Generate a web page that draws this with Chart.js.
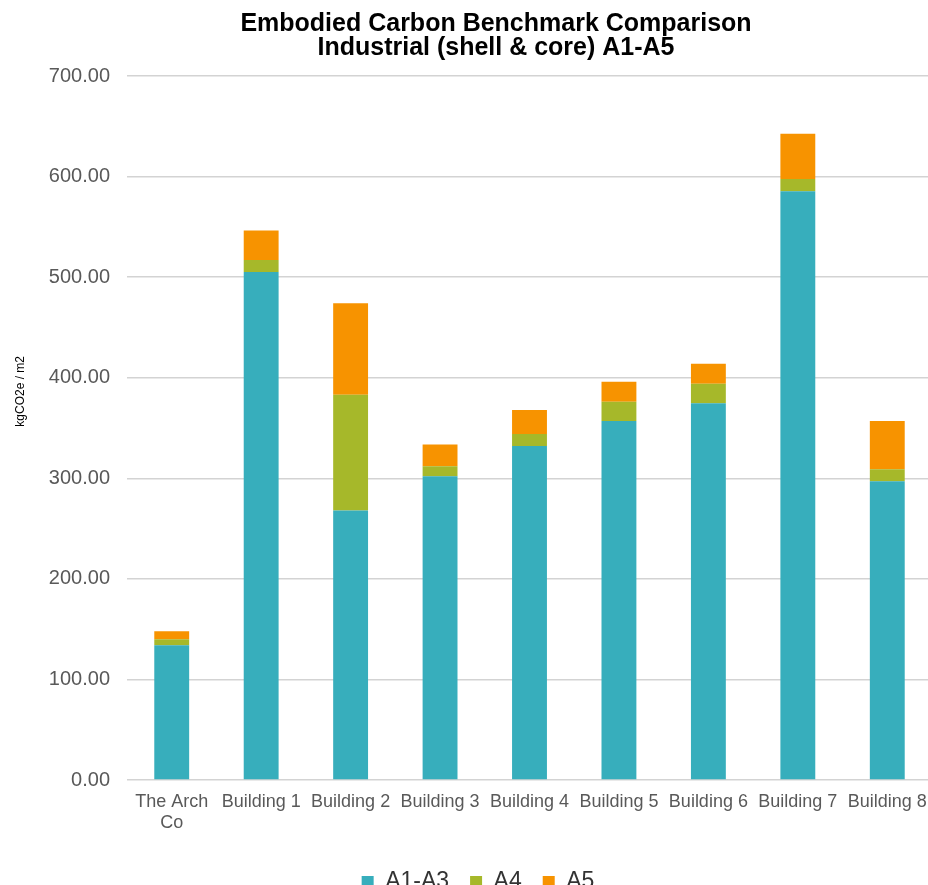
<!DOCTYPE html>
<html>
<head>
<meta charset="utf-8">
<title>Embodied Carbon Benchmark Comparison</title>
<script src="https://cdn.jsdelivr.net/npm/chart.js@4.4.1/dist/chart.umd.min.js"></script>
<style>
  html, body { margin: 0; padding: 0; overflow: hidden; background: #ffffff; }
  #wrap { position: absolute; left: 0; top: 0; width: 992px; height: 903px; }
</style>
</head>
<body>
<div id="wrap"><canvas id="chart" width="992" height="903"></canvas></div>
<script>
// Buildings compared (kgCO2e per m2, life-cycle stages A1-A5)
const categories = [["The Arch", "Co"], "Building 1", "Building 2", "Building 3", "Building 4",
  "Building 5", "Building 6", "Building 7", "Building 8"];
const seriesNames = ["A1-A3", "A4", "A5"];
const a1a3 = [134, 505, 268, 302, 332, 357, 374.5, 585.5, 297];
const a4 = [6, 12, 115, 10, 12, 19, 19.5, 12, 12];
const a5 = [8, 29.5, 91, 21.5, 24, 20, 20, 45, 48];
const yTicks = [0, 100, 200, 300, 400, 500, 600, 700];
const yTitle = "kgCO2e / m2";

const colors = ["#37AEBC", "#A6B82A", "#F79300"];
const FONT = "'Liberation Sans', Arial, Helvetica, sans-serif";

// Nudges the centred legend row a little to the left
const legendShift = {
  id: 'legendShift',
  afterLayout(chart) {
    if (chart.legend) chart.legend.right -= 36;
  }
};

new Chart(document.getElementById('chart'), {
  type: 'bar',
  data: {
    labels: categories,
    datasets: [a1a3, a4, a5].map((vals, i) => ({
      label: seriesNames[i],
      data: vals,
      backgroundColor: colors[i],
      borderWidth: 0,
      barPercentage: 0.39,
      categoryPercentage: 1.0
    }))
  },
  options: {
    responsive: false,
    animation: false,
    layout: { padding: 0 },
    plugins: {
      title: {
        display: true,
        text: ["Embodied Carbon Benchmark Comparison", "Industrial (shell & core) A1-A5"],
        color: '#000000',
        font: { family: FONT, size: 25, weight: 'bold', lineHeight: 0.96 },
        padding: { top: 12, bottom: 16 }
      },
      legend: {
        position: 'bottom',
        labels: {
          color: '#333333',
          font: { family: FONT, size: 23 },
          boxWidth: 12,
          boxHeight: 11,
          padding: 21
        }
      },
      tooltip: { enabled: false }
    },
    scales: {
      x: {
        stacked: true,
        grid: { display: false },
        border: { display: false },
        ticks: {
          color: '#595959',
          font: { family: FONT, size: 18, lineHeight: 1.2 },
          maxRotation: 0,
          autoSkip: false,
          padding: 3
        },
        afterFit(s) { s.height = 69; }
      },
      y: {
        stacked: true,
        min: 0,
        max: 700,
        afterBuildTicks(s) { s.ticks = yTicks.map(v => ({ value: v })); },
        grid: { color: '#d3d3d3', lineWidth: 1.5, drawTicks: false },
        border: { display: false },
        ticks: {
          color: '#595959',
          font: { family: FONT, size: 20 },
          padding: 17,
          callback: v => Number(v).toFixed(2)
        },
        title: {
          display: true,
          // leading spaces lift the label above the axis midpoint
          text: yTitle.padStart(yTitle.length + 22, ' '),
          color: '#000000',
          font: { family: FONT, size: 12 },
          padding: { top: 13, bottom: 0 }
        },
        afterFit(s) { s.width = 127; }
      },
      yRight: {
        position: 'right',
        display: true,
        grid: { display: false, drawTicks: false },
        border: { display: false },
        ticks: { display: false },
        afterFit(s) { s.width = 60; }
      }
    }
  },
  plugins: [legendShift]
});
</script>
</body>
</html>
